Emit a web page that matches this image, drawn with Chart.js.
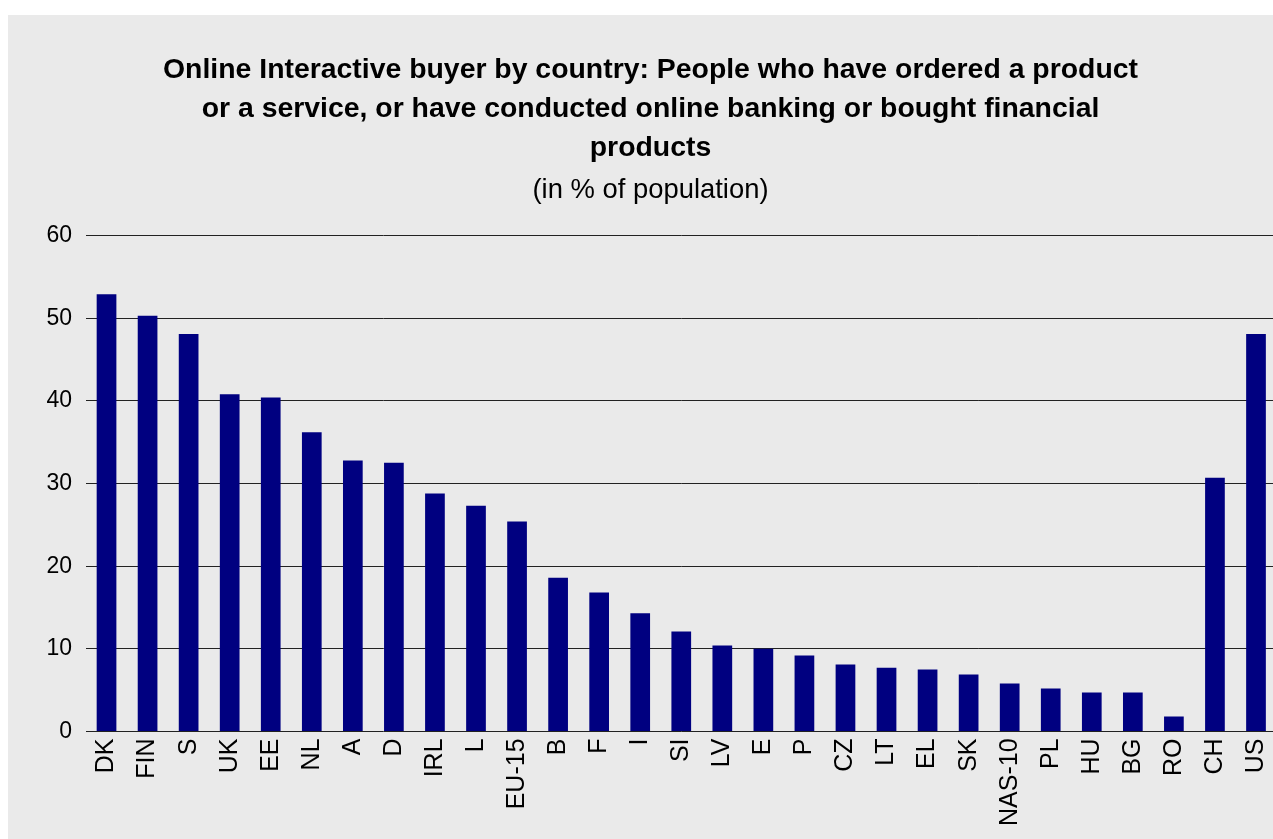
<!DOCTYPE html>
<html>
<head>
<meta charset="utf-8">
<script src="https://cdn.jsdelivr.net/npm/chart.js@4"></script>
<style>
	html, body { margin: 0; padding: 0; background: #fff; overflow: hidden; }
	#panel { position: absolute; left: 8px; top: 15px; width: 1290px; height: 824px; background: #eaeaea; }
</style>
</head>
<body>
<div id="panel"><canvas id="myChart" width="1285" height="824"></canvas></div>
<script>
// categories and values (in % of population)
var countries = ["DK", "FIN", "S", "UK", "EE", "NL", "A", "D", "IRL", "L", "EU-15", "B", "F", "I", "SI", "LV", "E", "P", "CZ", "LT", "EL", "SK", "NAS-10", "PL", "HU", "BG", "RO", "CH", "US"];
var buyers = [52.9, 50.3, 48.1, 40.8, 40.4, 36.2, 32.8, 32.5, 28.8, 27.3, 25.4, 18.6, 16.8, 14.3, 12.1, 10.4, 10.0, 9.2, 8.1, 7.7, 7.5, 6.9, 5.8, 5.2, 4.7, 4.7, 1.8, 30.7, 48.1];
var yTicks = [0, 10, 20, 30, 40, 50, 60];

var titleLines = [
	"Online Interactive buyer by country: People who have ordered a product",
	"or a service, or have conducted online banking or bought financial",
	"products"
];
var subtitleText = "(in % of population)";

var fontName = 'Liberation Sans, Arial, sans-serif';

var ctx = document.getElementById("myChart");
var myChart = new Chart(ctx, {
	type: 'bar',
	data: {
		labels: countries,
		datasets: [{
			data: buyers,
			backgroundColor: '#000080',
			borderWidth: 0,
			barPercentage: 0.48,
			categoryPercentage: 1
		}]
	},
	options: {
		responsive: false,
		animation: false,
		layout: { padding: { left: 0, right: 0, top: 36, bottom: 6 } },
		plugins: {
			legend: { display: false },
			tooltip: { enabled: false },
			title: {
				display: true,
				text: titleLines,
				color: '#000',
				font: { family: fontName, size: 28.4, weight: 'bold', lineHeight: 1.37 },
				padding: { top: 0, bottom: 6 }
			},
			subtitle: {
				display: true,
				text: subtitleText,
				color: '#000',
				font: { family: fontName, size: 27.4, weight: 'normal', lineHeight: 1.2 },
				padding: { top: 0, bottom: 29 }
			}
		},
		scales: {
			x: {
				grid: { display: false, drawTicks: false },
				border: { display: false },
				ticks: {
					color: '#000',
					font: { family: fontName, size: 25 },
					minRotation: 90,
					maxRotation: 90,
					autoSkip: false,
					padding: 7
				}
			},
			y: {
				min: 0,
				max: 60,
				afterBuildTicks: function (axis) {
					axis.ticks = yTicks.map(function (v) { return { value: v }; });
				},
				afterFit: function (axis) {
					axis.width = 78;
				},
				grid: { color: '#222', lineWidth: 1, drawTicks: false },
				border: { display: false },
				ticks: {
					color: '#000',
					font: { family: fontName, size: 23 },
					padding: 14
				}
			}
		}
	}
});
</script>
</body>
</html>
